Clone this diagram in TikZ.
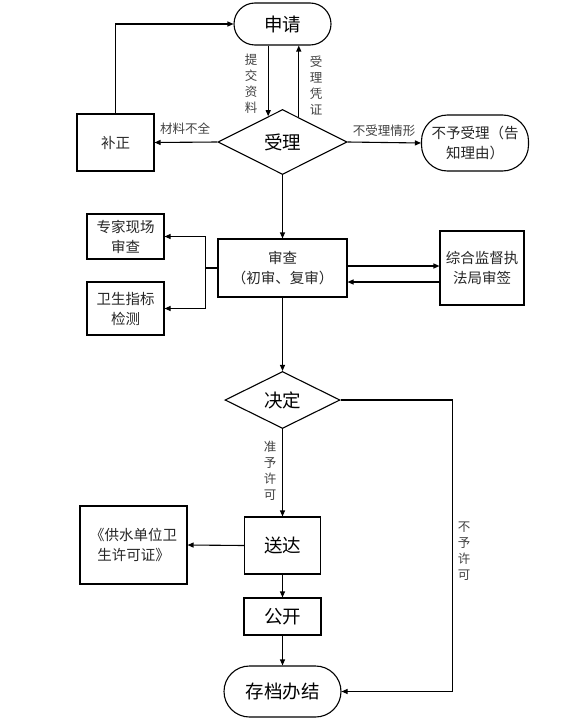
\documentclass[tikz,border=0pt]{standalone}
\usepackage{fontspec}
\setmainfont{Noto Sans CJK SC}
\usetikzlibrary{shapes.geometric,arrows.meta,calc}
\begin{document}
\begin{tikzpicture}[x=1pt,y=-1pt,
  line width=1.1pt,
  arr/.style={-{Triangle[length=6pt,width=5pt]}},
  box/.style={draw, inner sep=0pt, align=center},
  stad/.style={draw, inner sep=0pt, align=center},
  dia/.style={draw, diamond, aspect=2, inner sep=0pt},
  big/.style={font=\fontsize{18.5}{22}\selectfont},
  mid/.style={font=\fontsize{14.5}{20}\selectfont, text=black!85},
  lab/.style={font=\fontsize{12.5}{16}\selectfont, text=black!75, inner sep=0pt, align=center}]
\useasboundingbox (0,0) rectangle (588,725);
% nodes
\node[stad, big, minimum width=97pt, minimum height=42pt, rounded corners=21pt] (sq) at (282.5,24) {申请};
\node[dia, big, minimum width=129pt, minimum height=65pt] (sl) at (282.5,142) {受理};
\node[box, mid, minimum width=77pt, minimum height=57pt] (bz) at (115.5,142.5) {补正};
\node[stad, mid, minimum width=107pt, minimum height=56pt, rounded corners=26pt] (bsl) at (475,143) {不予受理（告\\知理由）};
\node[box, mid, minimum width=129pt, minimum height=58pt] (sc) at (282.5,268) {审查\\（初审、复审）};
\node[box, mid, minimum width=77pt, minimum height=45pt] (zj) at (125.5,236.5) {专家现场\\审查};
\node[box, mid, minimum width=77pt, minimum height=53pt] (ws) at (125.5,308.5) {卫生指标\\检测};
\node[box, mid, minimum width=84pt, minimum height=74pt] (zh) at (482,268) {综合监督执\\法局审签};
\node[dia, big, minimum width=115pt, minimum height=57pt] (jd) at (282.5,400) {决定};
\node[box, big, minimum width=76pt, minimum height=57pt] (sd) at (282.5,545.5) {送达};
\node[box, mid, minimum width=107pt, minimum height=78pt] (xk) at (133.5,545) {《供水单位卫\\生许可证》};
\node[box, big, minimum width=77pt, minimum height=37pt] (gk) at (282.5,616.5) {公开};
\node[stad, big, minimum width=117pt, minimum height=51pt, rounded corners=25.5pt] (cd) at (282.5,691.5) {存档办结};
% labels
\node[lab] (l1) at (251,84) {提\\交\\资\\料};
\node[lab] (l2) at (316,86) {受\\理\\凭\\证};
\node[lab] (l3) at (185,129) {材料不全};
\node[lab] (l4) at (384,131) {不受理情形};
\node[lab] (l5) at (270,471) {准\\予\\许\\可};
\node[lab] (l6) at (464,551) {不\\予\\许\\可};
% connectors
\coordinate (p1) at ($(sl.north)!0.22!(sl.west)$);
\coordinate (p2) at ($(sl.north)!0.25!(sl.east)$);
\draw[arr] (p1 |- sq.south) -- (p1);
\draw[arr] (p2) -- (p2 |- sq.south);
\draw[arr] (bz.north) |- (sq.west);
\draw[arr] (sl.west) -- (bz.east);
\draw[arr] (sl.east) -- (bsl.west);
\draw[arr] (sl.south) -- (sc.north);
\draw (sc.west) -- ++(-12,0) coordinate (j);
\draw[arr] (j |- zj.east) |- (ws.east);
\draw[arr] (j |- ws.east) |- (zj.east);
\draw[arr] ([yshift=2pt]sc.east) -- ([yshift=2pt]zh.west);
\draw[arr] ([yshift=-14pt]zh.west) -- ([yshift=-14pt]sc.east);
\draw[arr] (sc.south) -- (jd.north);
\draw[arr] (jd.south) -- (sd.north);
\draw[arr] (sd.west) -- (xk.east);
\draw[arr] (sd.south) -- (gk.north);
\draw[arr] (gk.south) -- (cd.north);
\draw[arr] (jd.east) -- ++(111.5,0) |- (cd.east);
\end{tikzpicture}
\end{document}
